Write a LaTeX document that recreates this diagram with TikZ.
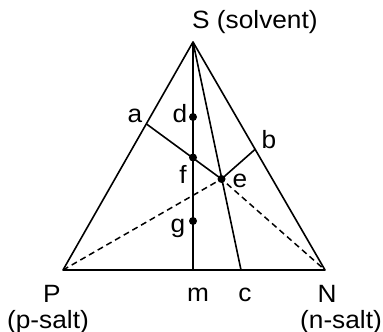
\documentclass[tikz,border=0pt]{standalone}
\usepackage{fontspec}
\setmainfont{Liberation Sans}
\usepackage{graphicx}
\newcommand{\wt}[1]{\scalebox{1.05}[1]{#1}}
\begin{document}
\begin{tikzpicture}[x=1pt,y=-1pt,
  edge/.style={line width=1.6pt,line join=round},
  dashline/.style={line width=1.5pt,dash pattern=on 6pt off 4pt},
  dot/.style={circle,fill=black,inner sep=0pt,minimum size=8pt},
  lbl/.style={inner sep=0pt,anchor=base,font=\fontsize{25}{27}\selectfont}]
\useasboundingbox (0,0) rectangle (383,332);
\coordinate (S) at (193,42);
\coordinate (P) at (63,270);
\coordinate (N) at (325,270);
\coordinate (m) at (193,270);
\coordinate (c) at (241,270);
\coordinate (a) at (146.5,124);
\coordinate (b) at (255.5,149);
\coordinate (e) at (221.5,179);
\coordinate (d) at (193,117);
\coordinate (f) at (193,157.5);
\coordinate (g) at (193,221);
\draw[dashline] (P) -- (e) -- (N);
\draw[edge] (S) -- (P) -- (N) -- cycle;
\draw[edge] (S) -- (m);
\draw[edge] (S) -- (c);
\draw[edge] (a) -- (e) -- (b);
\node[dot] (dd) at (d) {};
\node[dot] (ff) at (f) {};
\node[dot] (ee) at (e) {};
\node[dot] (gg) at (g) {};
\node[lbl,anchor=base west] (Sl) at (192,28) {\wt{S (solvent)}};
\node[lbl] (al) at (135,122) {\wt{a}};
\node[lbl] (dl) at (180,122) {\wt{d}};
\node[lbl] (bl) at (269,148) {\wt{b}};
\node[lbl] (fl) at (183,183) {\wt{f}};
\node[lbl] (el) at (240,187) {\wt{e}};
\node[lbl] (gl) at (178,232) {\wt{g}};
\node[lbl] (Pl) at (52,302) {\wt{P}};
\node[lbl] (psl) at (48,328) {\wt{(p-salt)}};
\node[lbl] (ml) at (198,301) {\wt{m}};
\node[lbl] (cl) at (245,301) {\wt{c}};
\node[lbl] (Nl) at (327,302) {\wt{N}};
\node[lbl] (nsl) at (341,328) {\wt{(n-salt)}};
\end{tikzpicture}
\end{document}
